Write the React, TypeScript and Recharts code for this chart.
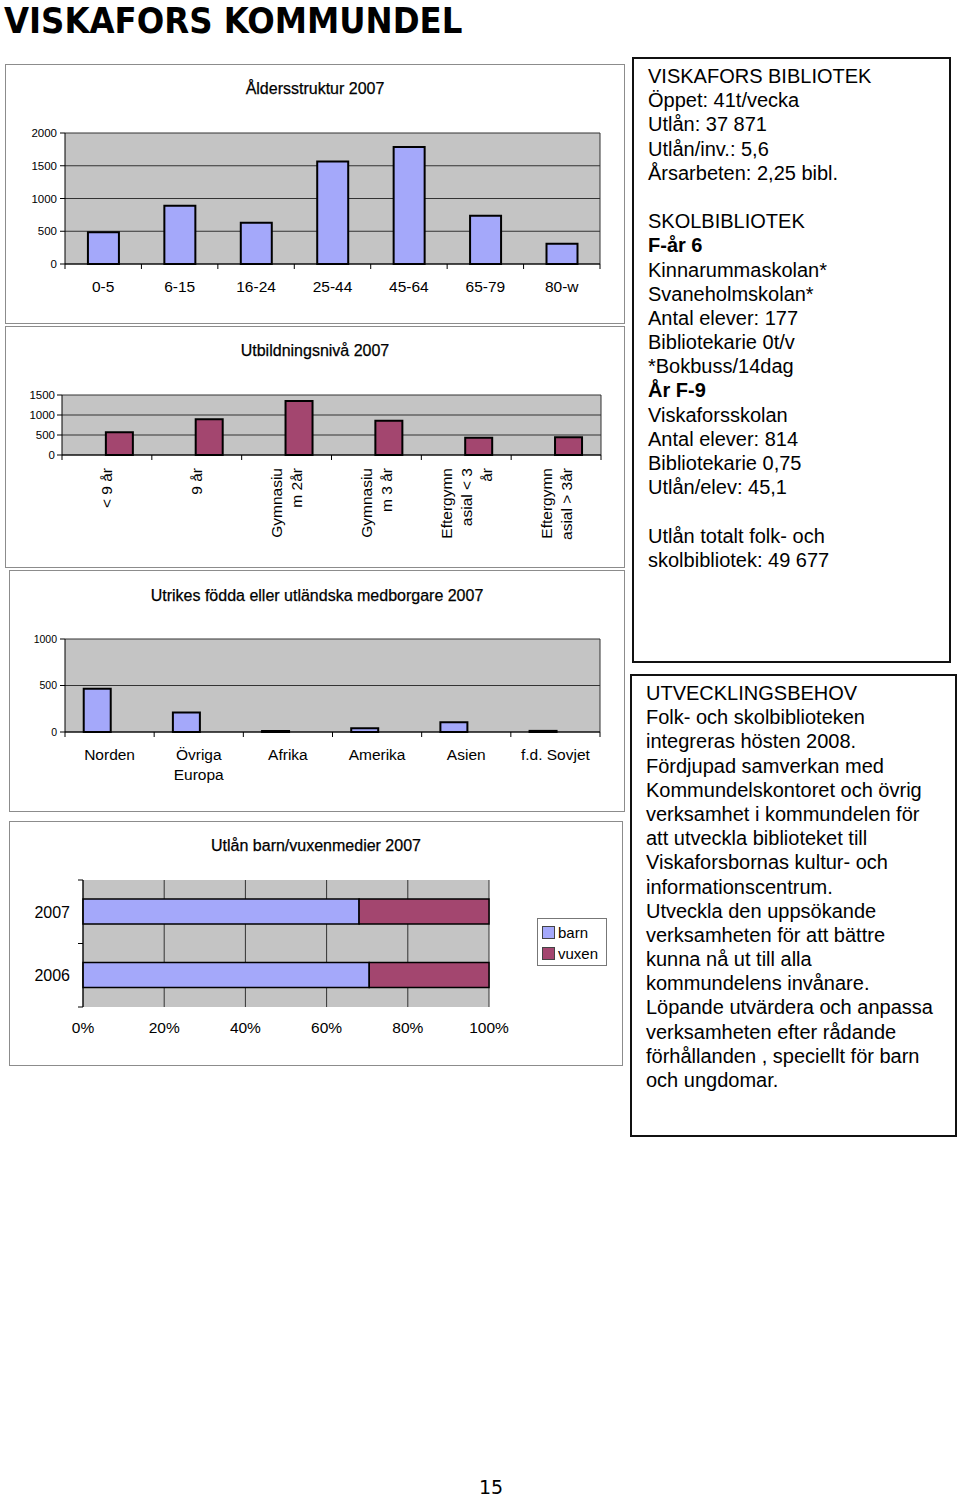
import React from 'react';
import { BarChart, Bar, XAxis, YAxis, CartesianGrid, Legend } from 'recharts';

const FONT = '"Liberation Sans", Arial, Helvetica, sans-serif';
const BLUE = '#a4a8fa';
const MAROON = '#a3466f';
const PLOT_BG = '#c4c4c4';
const GRID = '#333';

// Åldersstruktur 2007
const ageGroups = ['0-5', '6-15', '16-24', '25-44', '45-64', '65-79', '80-w'];
const ageCounts = [485, 890, 630, 1565, 1785, 735, 310];
const ageTicks = [0, 500, 1000, 1500, 2000];

// Utbildningsnivå 2007
const eduLevels = ['< 9 år', '9 år', 'Gymnasiu\nm 2år', 'Gymnasiu\nm 3 år', 'Eftergymn\nasial < 3\når', 'Eftergymn\nasial > 3år'];
const eduCounts = [570, 895, 1350, 855, 430, 445];
const eduTicks = [0, 500, 1000, 1500];

// Utrikes födda eller utländska medborgare 2007
const regions = ['Norden', 'Övriga\nEuropa', 'Afrika', 'Amerika', 'Asien', 'f.d. Sovjet'];
const regionCounts = [465, 210, 12, 40, 105, 12];
const regionTicks = [0, 500, 1000];

// Utlån barn/vuxenmedier 2007
const loanYears = ['2007', '2006'];
const loanBarn = [68, 70.5];
const loanVuxen = [32, 29.5];
const pctTicks = [0, 0.2, 0.4, 0.6, 0.8, 1];

const libraryLines = [
  { t: 'VISKAFORS BIBLIOTEK' },
  { t: 'Öppet: 41t/vecka' },
  { t: 'Utlån: 37 871' },
  { t: 'Utlån/inv.: 5,6' },
  { t: 'Årsarbeten: 2,25 bibl.' },
  { t: '' },
  { t: 'SKOLBIBLIOTEK' },
  { t: 'F-år 6', b: true },
  { t: 'Kinnarummaskolan*' },
  { t: 'Svaneholmskolan*' },
  { t: 'Antal elever: 177' },
  { t: 'Bibliotekarie 0t/v' },
  { t: '*Bokbuss/14dag' },
  { t: 'År F-9', b: true },
  { t: 'Viskaforsskolan' },
  { t: 'Antal elever: 814' },
  { t: 'Bibliotekarie 0,75' },
  { t: 'Utlån/elev: 45,1' },
  { t: '' },
  { t: 'Utlån totalt folk- och' },
  { t: 'skolbibliotek: 49 677' },
];

const needsLines = [
  'UTVECKLINGSBEHOV',
  'Folk- och skolbiblioteken',
  'integreras hösten 2008.',
  'Fördjupad samverkan med',
  'Kommundelskontoret och övrig',
  'verksamhet i kommundelen för',
  'att utveckla biblioteket till',
  'Viskaforsbornas kultur- och',
  'informationscentrum.',
  'Utveckla den uppsökande',
  'verksamheten för att bättre',
  'kunna nå ut till alla',
  'kommundelens invånare.',
  'Löpande utvärdera och anpassa',
  'verksamheten efter rådande',
  'förhållanden , speciellt för barn',
  'och ungdomar.',
];

const ageData = ageGroups.map((g, i) => ({ name: g, antal: ageCounts[i] }));
const eduData = eduLevels.map((g, i) => ({ name: g, antal: eduCounts[i] }));
const regionData = regions.map((g, i) => ({ name: g, antal: regionCounts[i] }));
const loanData = loanYears.map((y, i) => ({ year: y, barn: loanBarn[i], vuxen: loanVuxen[i] }));

// excel style: tick marks between categories, labels under the middle
const CategoryTick = (props: any) => {
  const { x, y, payload, index, count, band, fontSize, baseline, rotated } = props;
  const half = payload && payload.offset > 0 ? payload.offset : band / 2;
  const lines = String(payload.value).split('\n');
  const n = lines.length;
  return (
    <g>
      <line x1={x - half} x2={x - half} y1={y} y2={y + 5} stroke="#000" />
      {index === count - 1 && <line x1={x + half} x2={x + half} y1={y} y2={y + 5} stroke="#000" />}
      {rotated ? (
        <g transform={`translate(${x},${y})`}>
          <text transform="rotate(-90)" textAnchor="end" fontSize={fontSize} fill="#000" fontFamily={FONT}>
            {lines.map((l, i) => (
              <tspan key={i} x={-13} y={(i - (n - 1) / 2) * 20 + 5.5}>{l}</tspan>
            ))}
          </text>
        </g>
      ) : (
        <text textAnchor="middle" fontSize={fontSize} fill="#000" fontFamily={FONT}>
          {lines.map((l, i) => (
            <tspan key={i} x={x} y={y + baseline + i * 20}>{l}</tspan>
          ))}
        </text>
      )}
    </g>
  );
};

const YearTick = (props: any) => {
  const { x, y, payload, index, count, band } = props;
  const half = payload && payload.offset > 0 ? payload.offset : band / 2;
  return (
    <g>
      <line x1={x} x2={x - 5} y1={y - half} y2={y - half} stroke="#000" />
      {index === count - 1 && <line x1={x} x2={x - 5} y1={y + half} y2={y + half} stroke="#000" />}
      <text x={x - 13} y={y} dy="0.36em" textAnchor="end" fontSize={16} fill="#000" fontFamily={FONT}>
        {payload.value}
      </text>
    </g>
  );
};

const rightEdge = (p: any) => (p && p.offset ? [p.offset.left + p.offset.width] : []);

const ChartTitle = ({ text, top }: { text: string; top: number }) => (
  <div
    style={{
      position: 'absolute', left: 0, right: 0, top, textAlign: 'center',
      fontFamily: FONT, fontSize: 16, lineHeight: '18px', color: '#000',
      WebkitTextStroke: '0.25px #000',
    }}
  >
    {text}
  </div>
);

const Panel = ({ left, top, width, height, children }: any) => (
  <div style={{ position: 'absolute', left, top, width, height }}>
    <div style={{ position: 'absolute', inset: 0, border: '1.5px solid #8c8c8c', boxSizing: 'border-box' }} />
    {children}
  </div>
);

const LoanLegend = (props: any) => (
  <div
    style={{
      border: '1px solid #777', background: '#fff', boxSizing: 'border-box',
      width: 70, height: 48, padding: '3px 0 0 4px', fontFamily: FONT, fontSize: 15, lineHeight: '21px',
    }}
  >
    {(props.payload || []).map((e: any) => (
      <div key={e.value} style={{ display: 'flex', alignItems: 'center' }}>
        <span style={{ display: 'inline-block', width: 11, height: 11, background: e.color, border: '1px solid #444', marginRight: 3 }} />
        {e.value}
      </div>
    ))}
  </div>
);

const axisStyle = { fontSize: 11.5, fill: '#000', fontFamily: FONT };

export default function App() {
  return (
    <div style={{ position: 'absolute', left: 0, top: 0, width: 960, height: 1498, background: '#fff', overflow: 'hidden', fontFamily: FONT }}>
      <div
        style={{
          position: 'absolute', left: 4, top: 0, fontFamily: '"DejaVu Sans Condensed", "DejaVu Sans", sans-serif',
          fontStretch: 'condensed', fontWeight: 900, fontSize: 36, lineHeight: '42px', color: '#000', whiteSpace: 'nowrap',
        }}
      >
        VISKAFORS KOMMUNDEL
      </div>

      {/* Åldersstruktur */}
      <Panel left={5} top={64} width={620} height={260}>
        <ChartTitle text="Åldersstruktur 2007" top={16} />
        <div style={{ position: 'absolute', left: 0, top: 0 }}>
          <BarChart width={620} height={260} data={ageData} margin={{ top: 69, right: 25, bottom: 0, left: 0 }} barCategoryGap="30%">
            <CartesianGrid fill={PLOT_BG} fillOpacity={1} stroke={GRID} verticalCoordinatesGenerator={rightEdge} />
            <XAxis
              dataKey="name" height={60} interval={0} tickSize={0} tickMargin={0} tickLine={false}
              axisLine={{ stroke: '#000' }}
              tick={<CategoryTick fontSize={15.5} baseline={27.5} count={ageGroups.length} band={535 / ageGroups.length} />}
            />
            <YAxis
              width={60} domain={[0, 2000]} ticks={ageTicks} interval={0} tick={axisStyle}
              tickSize={5} tickMargin={3} tickLine={{ stroke: '#000' }} axisLine={{ stroke: '#000' }}
            />
            <Bar dataKey="antal" fill={BLUE} stroke="#000" strokeWidth={2} isAnimationActive={false} />
          </BarChart>
        </div>
      </Panel>

      {/* Utbildningsnivå */}
      <Panel left={5} top={326} width={620} height={242}>
        <ChartTitle text="Utbildningsnivå 2007" top={16} />
        <div style={{ position: 'absolute', left: 0, top: 0 }}>
          <BarChart width={620} height={242} data={eduData} margin={{ top: 69, right: 24, bottom: 0, left: 0 }} barCategoryGap="21%" barGap={-2}>
            <CartesianGrid fill={PLOT_BG} fillOpacity={1} stroke={GRID} verticalCoordinatesGenerator={rightEdge} />
            <XAxis
              dataKey="name" height={113} interval={0} tickSize={0} tickMargin={0} tickLine={false}
              axisLine={{ stroke: '#000' }}
              tick={<CategoryTick rotated fontSize={15.5} count={eduLevels.length} band={539 / eduLevels.length} />}
            />
            <YAxis
              width={57} domain={[0, 1500]} ticks={eduTicks} interval={0} tick={axisStyle}
              tickSize={5} tickMargin={2} tickLine={{ stroke: '#000' }} axisLine={{ stroke: '#000' }}
            />
            <Bar dataKey="tom" fill={BLUE} isAnimationActive={false} />
            <Bar dataKey="antal" fill={MAROON} stroke="#000" strokeWidth={2} isAnimationActive={false} />
          </BarChart>
        </div>
      </Panel>

      {/* Utrikes födda */}
      <Panel left={9} top={570} width={616} height={242}>
        <ChartTitle text="Utrikes födda eller utländska medborgare 2007" top={17} />
        <div style={{ position: 'absolute', left: 0, top: 0 }}>
          <BarChart width={616} height={242} data={regionData} margin={{ top: 69, right: 25, bottom: 0, left: 0 }} barCategoryGap="21%" barGap={-2}>
            <CartesianGrid fill={PLOT_BG} fillOpacity={1} stroke={GRID} verticalCoordinatesGenerator={rightEdge} />
            <XAxis
              dataKey="name" height={80} interval={0} tickSize={0} tickMargin={0} tickLine={false}
              axisLine={{ stroke: '#000' }}
              tick={<CategoryTick fontSize={15.5} baseline={27.5} count={regions.length} band={535 / regions.length} />}
            />
            <YAxis
              width={56} domain={[0, 1000]} ticks={regionTicks} interval={0}
              tick={{ ...axisStyle, fontSize: 10.5 }}
              tickSize={5} tickMargin={3} tickLine={{ stroke: '#000' }} axisLine={{ stroke: '#000' }}
            />
            <Bar dataKey="antal" fill={BLUE} stroke="#000" strokeWidth={2} isAnimationActive={false} />
            <Bar dataKey="tom" fill={MAROON} isAnimationActive={false} />
          </BarChart>
        </div>
      </Panel>

      {/* Utlån barn/vuxen */}
      <Panel left={9} top={821} width={614} height={245}>
        <ChartTitle text="Utlån barn/vuxenmedier 2007" top={16} />
        <div style={{ position: 'absolute', left: 0, top: 0 }}>
          <BarChart
            width={614} height={245} data={loanData} layout="vertical" stackOffset="expand"
            margin={{ top: 59, right: 134, bottom: 0, left: 0 }} barCategoryGap="30%"
          >
            <CartesianGrid fill={PLOT_BG} fillOpacity={1} stroke={GRID} horizontal={false} />
            <XAxis
              type="number" domain={[0, 1]} ticks={pctTicks} interval={0} height={59}
              tickFormatter={(v: number) => `${Math.round(v * 100)}%`}
              tick={{ fontSize: 15.5, fill: '#000', fontFamily: FONT }}
              tickSize={0} tickMargin={15} tickLine={false} axisLine={false}
            />
            <YAxis
              type="category" dataKey="year" width={74} interval={0} tickSize={0} tickMargin={0} tickLine={false}
              axisLine={{ stroke: '#000' }}
              tick={<YearTick count={loanYears.length} band={127 / loanYears.length} />}
            />
            <Legend
              layout="vertical" align="center" verticalAlign="middle" content={<LoanLegend />}
              wrapperStyle={{ left: 528, top: 97, width: 70, height: 48 }}
            />
            <Bar dataKey="barn" name="barn" stackId="a" fill={BLUE} stroke="#000" strokeWidth={1.5} isAnimationActive={false} />
            <Bar dataKey="vuxen" name="vuxen" stackId="a" fill={MAROON} stroke="#000" strokeWidth={1.5} isAnimationActive={false} />
          </BarChart>
        </div>
      </Panel>

      {/* right text boxes */}
      <div style={{ position: 'absolute', left: 632, top: 57, width: 319, height: 606, border: '2px solid #111', boxSizing: 'border-box' }} />
      <div style={{ position: 'absolute', left: 648, top: 64, fontSize: 20, lineHeight: '24.2px', color: '#000', whiteSpace: 'nowrap' }}>
        {libraryLines.map((l, i) => (
          <div key={i} style={{ fontWeight: l.b ? 'bold' : 'normal', height: 24.2 }}>{l.t || '\u00a0'}</div>
        ))}
      </div>

      <div style={{ position: 'absolute', left: 630, top: 674, width: 327, height: 463, border: '2px solid #111', boxSizing: 'border-box' }} />
      <div style={{ position: 'absolute', left: 646, top: 681, fontSize: 20, lineHeight: '24.2px', color: '#000', whiteSpace: 'nowrap' }}>
        {needsLines.map((l, i) => (
          <div key={i} style={{ height: 24.2 }}>{l}</div>
        ))}
      </div>

      <div style={{ position: 'absolute', left: 466, top: 1475, width: 50, textAlign: 'center', fontFamily: '"DejaVu Sans", sans-serif', fontSize: 19, lineHeight: '24px' }}>
        15
      </div>
    </div>
  );
}
